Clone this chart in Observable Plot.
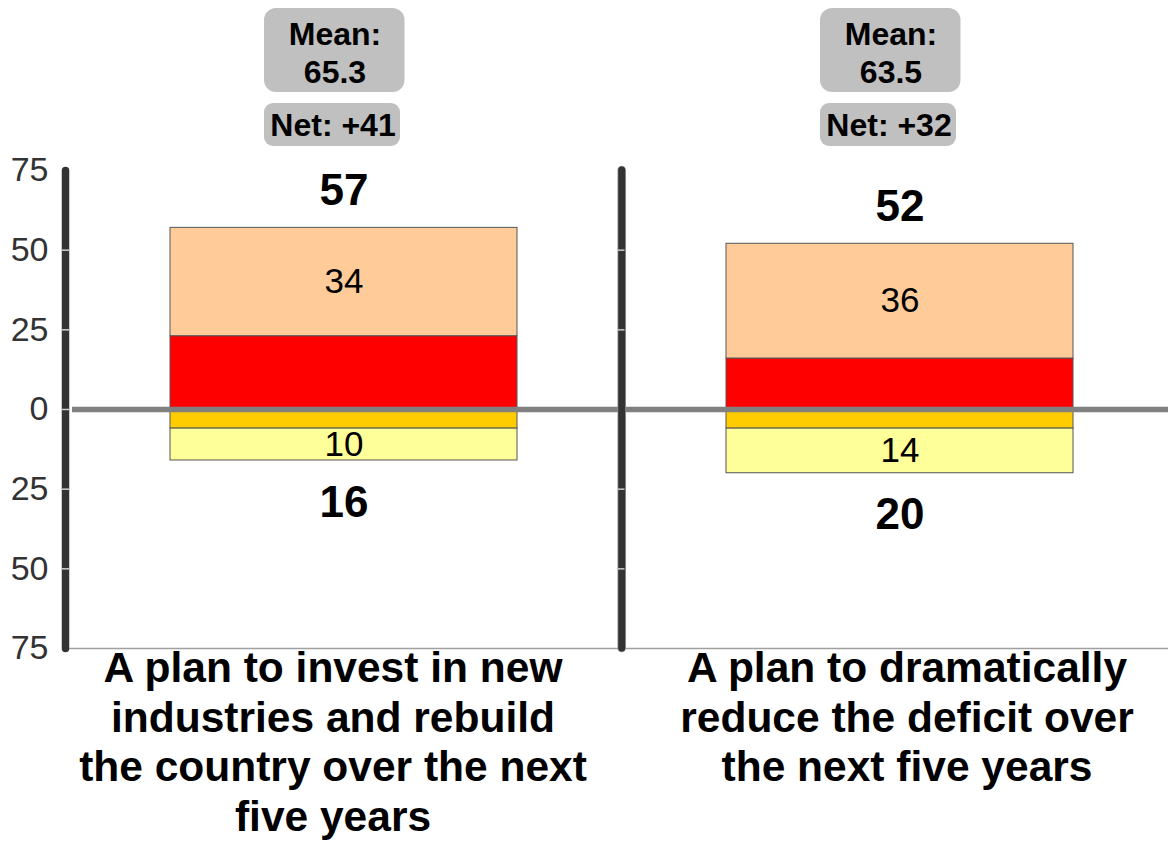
<!DOCTYPE html>
<html>
<head>
<meta charset="utf-8">
<script src="https://cdn.jsdelivr.net/npm/d3@7"></script>
<script src="https://cdn.jsdelivr.net/npm/@observablehq/plot@0.6"></script>
<style>
  html, body { margin: 0; padding: 0; background: #fff; overflow: hidden; }
  #chart svg { display: block; }
</style>
</head>
<body>
<div id="chart"></div>
<script>
// ---- Data ----
const questions = [
  "A plan to invest in new\nindustries and rebuild\nthe country over the next\nfive years",
  "A plan to dramatically\nreduce the deficit over\nthe next five years"
];
const segments = ["Strongly support", "Somewhat support", "Strongly oppose", "Somewhat oppose"];
const segColors = ["#FF0000", "#FFCC99", "#FFCC00", "#FFFF99"];
const strongSupport = [23, 16];
const someSupport = [34, 36];
const strongOppose = [6, 6];
const someOppose = [10, 14];
const means = [65.3, 63.5];
const nets = [41, 32];
const yTicks = [-75, -50, -25, 0, 25, 50, 75];

// ---- Derived tables ----
const rows = [];
questions.forEach((q, i) => {
  rows.push({q, seg: segments[0], value: strongSupport[i], label: false});
  rows.push({q, seg: segments[1], value: someSupport[i], label: true});
  rows.push({q, seg: segments[2], value: -strongOppose[i], label: false});
  rows.push({q, seg: segments[3], value: -someOppose[i], label: true});
});
const totals = [];
questions.forEach((q, i) => {
  totals.push({q, y: strongSupport[i] + someSupport[i], pos: true});
  totals.push({q, y: -(strongOppose[i] + someOppose[i]), pos: false});
});
const boxes = questions.map((q, i) => ({q, mean: `Mean:\n${means[i].toFixed(1)}`, net: `Net: +${nets[i]}`}));

// ---- Layout ----
const W = 1168, H = 842;
const mL = 65, mR = 0, mT = 170, mB = 194;
const xRange = [65, 1177];
const pI = 0.376, pO = 0.187;
const step = (xRange[1] - xRange[0]) / (questions.length - pI + 2 * pO);
const frameW = W - mL - mR;
const sepX = xRange[0] + (xRange[1] - xRange[0] - step * (questions.length - pI)) / 2 + step * (1 - pI) + step * pI / 2;
const font = "'Liberation Sans', Arial, Helvetica, sans-serif";
const labelStyle = {frameAnchor: "bottom", lineAnchor: "top", dy: -2, lineHeight: 1.17, fontSize: 42.5, fontWeight: "bold", fill: "#000"};

const chart = Plot.plot({
  width: W,
  height: H,
  marginLeft: mL,
  marginRight: mR,
  marginTop: mT,
  marginBottom: mB,
  style: {fontFamily: font, background: "#fff", overflow: "visible"},
  x: {type: "band", domain: questions, range: xRange, paddingInner: pI, paddingOuter: pO, align: 0.5, axis: null},
  y: {domain: [-75, 75], axis: null},
  color: {domain: segments, range: segColors},
  marks: [
    // bottom baseline
    Plot.frame({anchor: "bottom", stroke: "#a0a0a0", strokeWidth: 1.5}),
    // stacked bars
    Plot.barY(rows, {x: "q", y: "value", fill: "seg", stroke: "#555", strokeWidth: 1}),
    // segment labels
    Plot.text(rows, Plot.stackY({x: "q", y: "value", text: d => d.label ? Math.abs(d.value) : null, fontSize: 35, fill: "#000"})),
    // zero line
    Plot.ruleY([0], {stroke: "#808080", strokeWidth: 5.5, insetLeft: 7}),
    // left axis line
    Plot.frame({anchor: "left", stroke: "#333", strokeWidth: 7.5, strokeLinecap: "round"}),
    // separator
    Plot.ruleX([questions[1]], {x: d => d, dx: -step / 2, stroke: "#999", strokeWidth: 8.5, strokeLinecap: "round"}),
    Plot.ruleX([questions[1]], {x: d => d, dx: -step / 2, stroke: "#333", strokeWidth: 7, strokeLinecap: "round"}),
    // tick marks on axis line
    Plot.ruleY(yTicks.slice(1, -1), {y: d => d, stroke: "#d0d0d0", strokeWidth: 1.5, insetLeft: -3, insetRight: frameW - 4}),
    // tick marks on separator
    Plot.ruleY([-50, -25, 25, 50], {y: d => d, stroke: "#c8c8c8", strokeWidth: 1.5, insetLeft: sepX - mL - 3.5, insetRight: W - mR - sepX - 3.5}),
    // y axis labels
    Plot.axisY({ticks: yTicks, tickFormat: d => Math.abs(d), tickSize: 0, tickPadding: 17, fontSize: 34, fill: "#333"}),
    // total labels
    Plot.text(totals.filter(d => d.pos), {x: "q", y: "y", text: d => Math.abs(d.y), dy: -37, fontSize: 44, fontWeight: "bold", fill: "#000"}),
    Plot.text(totals.filter(d => !d.pos), {x: "q", y: "y", text: d => Math.abs(d.y), dy: 42, fontSize: 44, fontWeight: "bold", fill: "#000"}),
    // mean / net boxes
    Plot.cell(boxes, {x: "q", fill: "#c0c0c0", rx: 12, insetLeft: 94, insetRight: 112.5, insetTop: 8 - mT, insetBottom: (H - mB) - 92}),
    Plot.cell(boxes, {x: "q", fill: "#c0c0c0", rx: 9, insetLeft: 94, insetRight: 117, insetTop: 103 - mT, insetBottom: (H - mB) - 146}),
    Plot.text(boxes, {x: "q", text: "mean", frameAnchor: "top", lineAnchor: "middle", dy: 51.5 - mT, dx: -9, lineHeight: 1.17, fontSize: 32, fontWeight: "bold", fill: "#000"}),
    Plot.text(boxes, {x: "q", text: "net", frameAnchor: "top", lineAnchor: "middle", dy: 125 - mT, dx: -11, fontSize: 32, fontWeight: "bold", fill: "#000"}),
    // category labels
    Plot.text([questions[0]], {x: d => d, text: d => d, dx: -11, ...labelStyle}),
    Plot.text([questions[1]], {x: d => d, text: d => d, dx: 7, ...labelStyle})
  ]
});
document.getElementById("chart").appendChild(chart);
</script>
</body>
</html>
